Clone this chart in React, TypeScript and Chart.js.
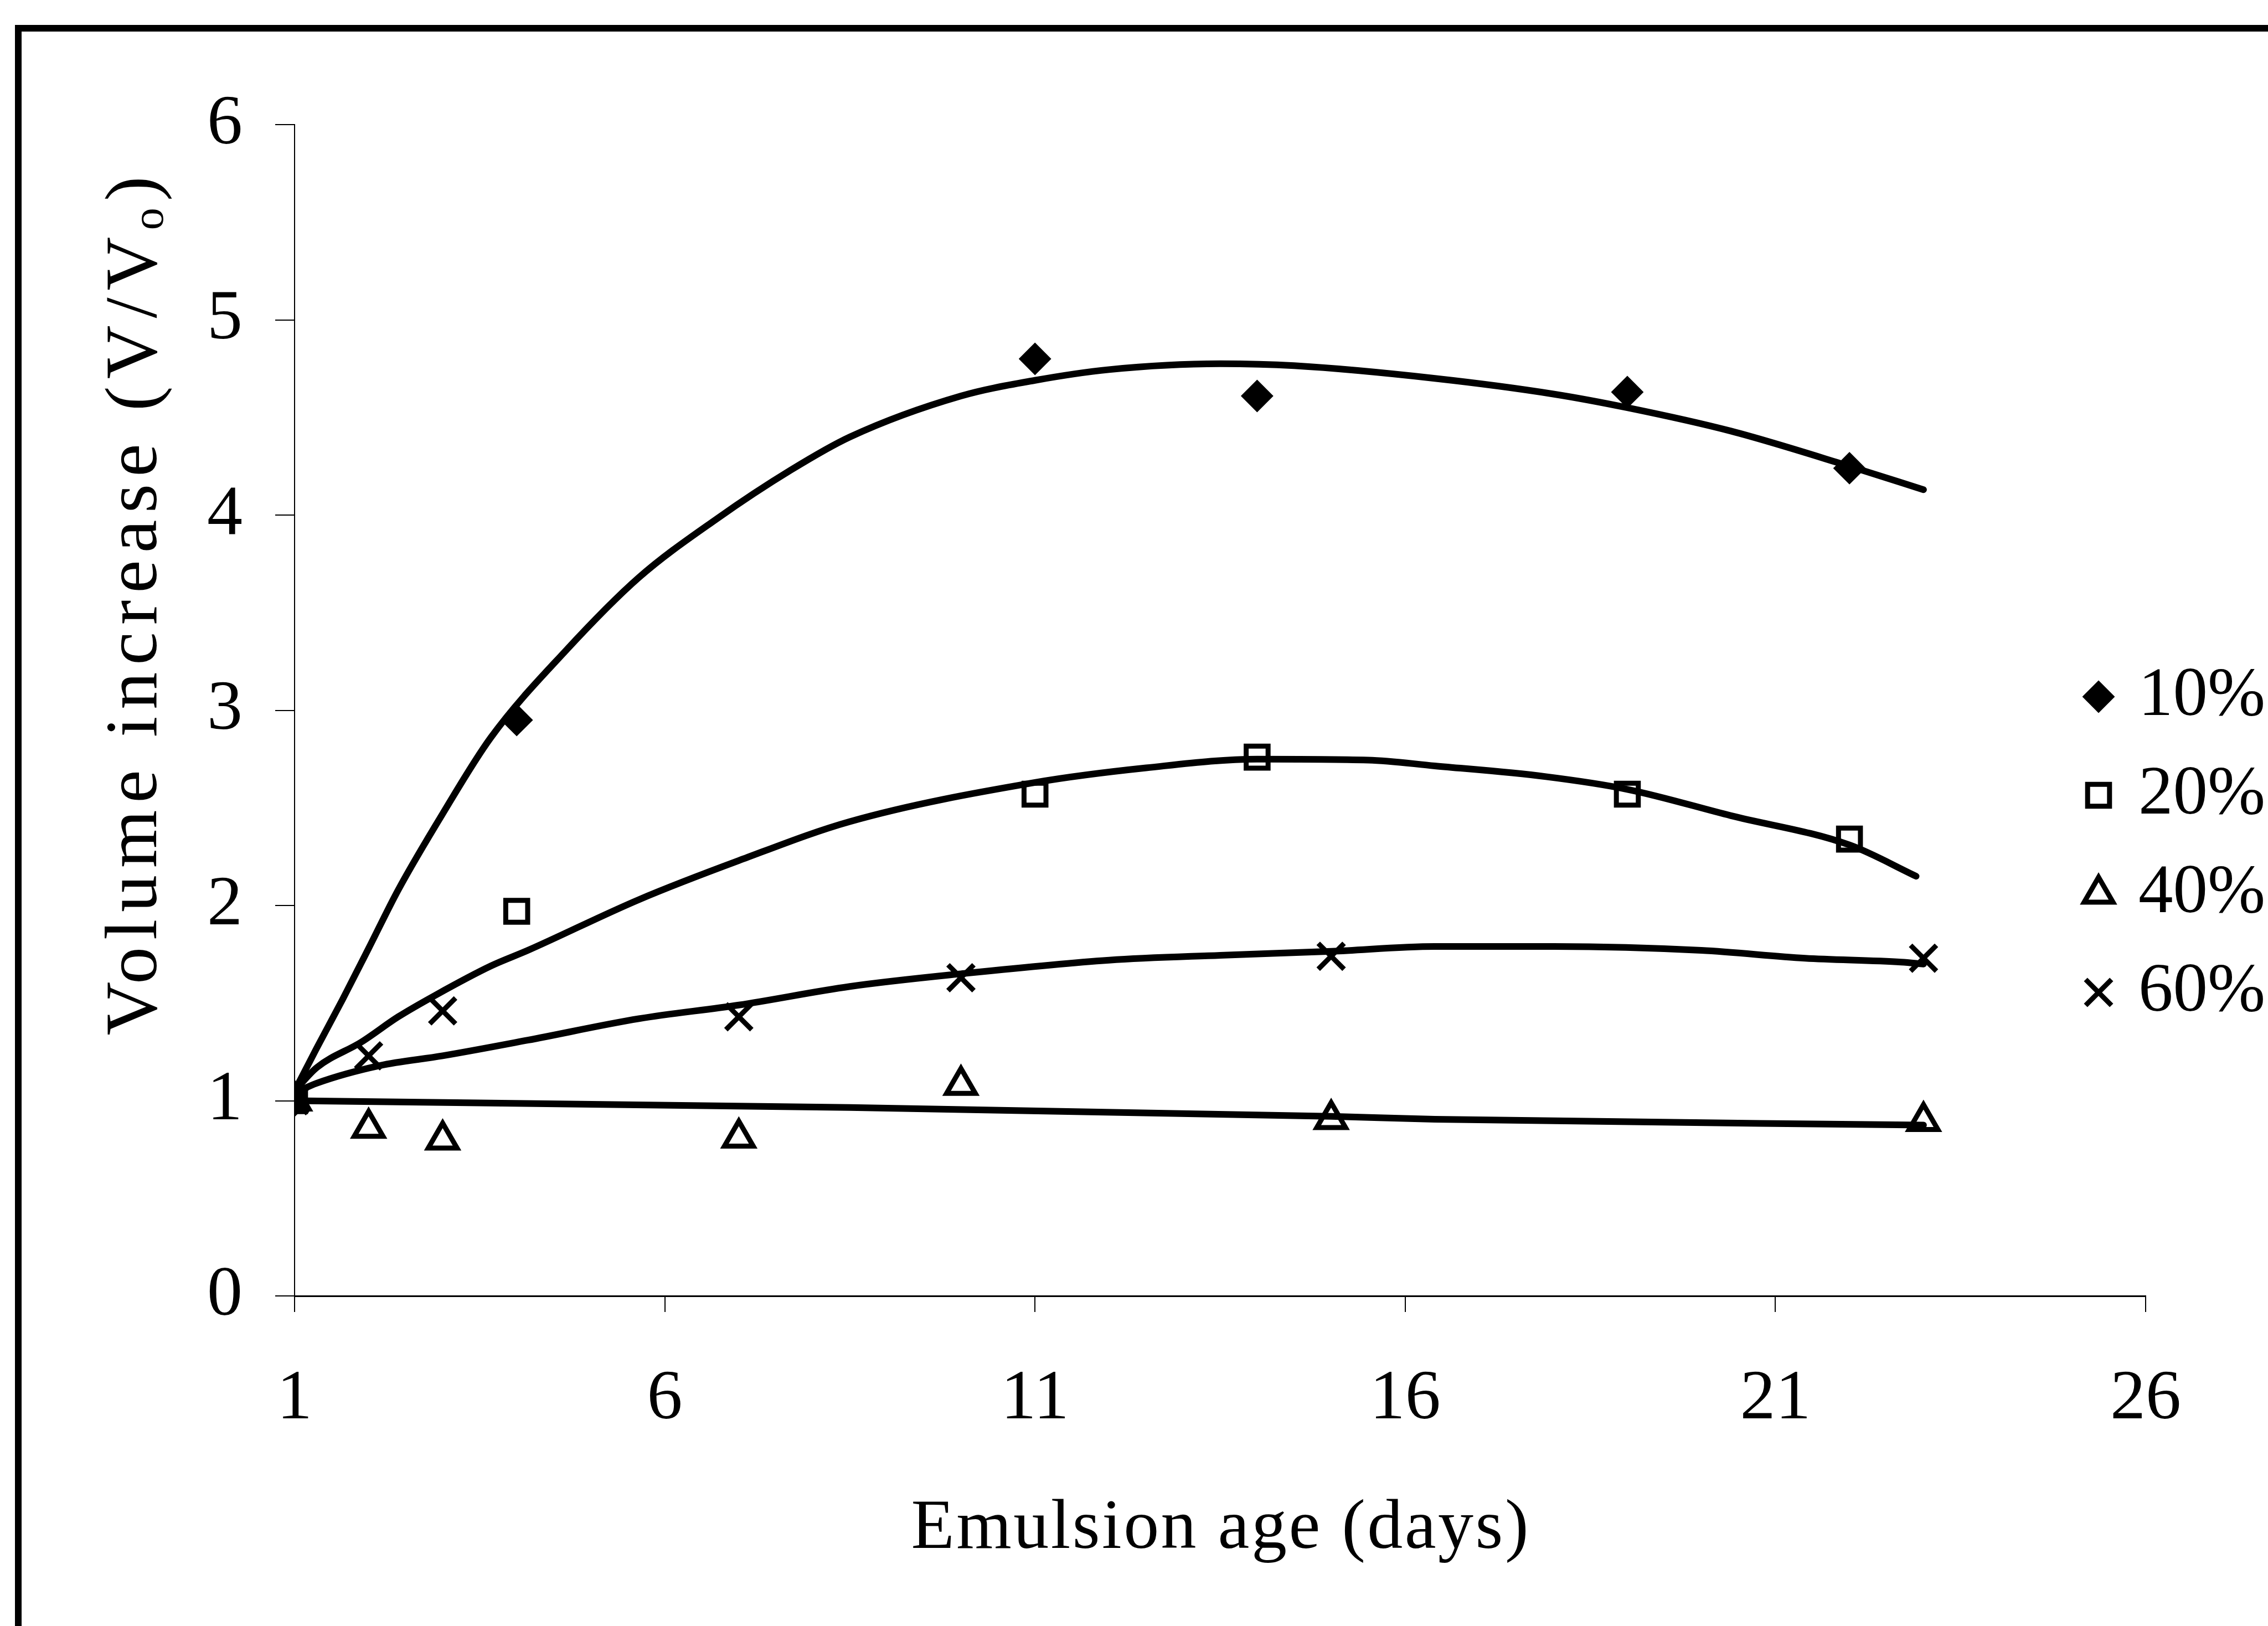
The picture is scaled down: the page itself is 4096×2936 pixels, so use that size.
import React, { useEffect, useRef } from 'react';
import { Chart, registerables } from 'chart.js';
import { drawPoint } from 'chart.js/helpers';

Chart.register(...registerables);

// Measured volume ratios V/Vo by emulsion age (days)
const seriesLabels = ['10%', '20%', '40%', '60%'];

const days10 = [1, 4, 11, 14, 19, 22];
const vol10 = [1.0, 2.95, 4.8, 4.61, 4.63, 4.24];

const days20 = [1, 4, 11, 14, 19, 22];
const vol20 = [1.0, 1.97, 2.57, 2.76, 2.57, 2.34];

const days40 = [1, 2, 3, 7, 10, 15, 23];
const vol40 = [1.0, 0.86, 0.8, 0.81, 1.08, 0.905, 0.895];

const days60 = [1, 2, 3, 7, 10, 15, 23];
const vol60 = [1.0, 1.23, 1.46, 1.43, 1.63, 1.74, 1.73];

// Fitted trend curves for each concentration
const fitDays10 = [1, 1.3, 1.65, 2, 2.4, 3, 3.65, 4.65, 5.65, 6.7, 7.7, 8.5, 10, 11, 12, 13.5, 14.5, 16.4, 18, 19, 20.4, 22, 23];
const fit10 = [1.05, 1.27, 1.52, 1.78, 2.08, 2.47, 2.86, 3.3, 3.68, 3.98, 4.23, 4.4, 4.61, 4.69, 4.745, 4.775, 4.765, 4.7, 4.62, 4.55, 4.43, 4.25, 4.13];

const fitDays20 = [1, 1.3, 1.9, 2.4, 2.9, 3.65, 4.15, 5.65, 7, 8.5, 11, 12.5, 14, 15.5, 16.4, 17.9, 19, 20.4, 22, 22.9];
const fit20 = [1.05, 1.17, 1.3, 1.43, 1.54, 1.69, 1.77, 2.03, 2.23, 2.43, 2.63, 2.705, 2.75, 2.745, 2.715, 2.66, 2.595, 2.46, 2.31, 2.15];

const fitDays40 = [1, 8.5, 15, 16.4, 23];
const fit40 = [1.0, 0.965, 0.92, 0.905, 0.875];

const fitDays60 = [1, 1.3, 2.15, 3, 4.15, 5.65, 7, 8.5, 10, 12, 13.5, 15, 16.4, 18, 20, 21.4, 22.7, 23];
const fit60 = [1.04, 1.09, 1.18, 1.23, 1.31, 1.42, 1.49, 1.585, 1.65, 1.72, 1.745, 1.765, 1.79, 1.79, 1.77, 1.73, 1.71, 1.7];

const xTickValues = [1, 6, 11, 16, 21, 26];
const yTickValues = [0, 1, 2, 3, 4, 5, 6];

const xTitle = 'Emulsion age (days)';
const yTitle = 'Volume increase (V/V\u2092)';

const FONT = '"Liberation Serif", "DejaVu Serif", serif';
const INK = '#000000';
const NONE = 'rgba(0,0,0,0)';

type MarkerSpec = {
  label: string;
  days: number[];
  vols: number[];
  style: string;
  radius: number;
  fill: string;
  width: number;
};

const markerSpecs: MarkerSpec[] = [
  { label: seriesLabels[0], days: days10, vols: vol10, style: 'rectRot', radius: 28, fill: INK, width: 2 },
  { label: seriesLabels[1], days: days20, vols: vol20, style: 'rect', radius: 28, fill: NONE, width: 9 },
  { label: seriesLabels[2], days: days40, vols: vol40, style: 'triangle', radius: 30, fill: NONE, width: 9 },
  { label: seriesLabels[3], days: days60, vols: vol60, style: 'crossRot', radius: 33, fill: NONE, width: 9 },
];

const fits: [number[], number[]][] = [
  [fitDays10, fit10],
  [fitDays20, fit20],
  [fitDays40, fit40],
  [fitDays60, fit60],
];

const toPoints = (xs: number[], ys: number[]) => xs.map((x, i) => ({ x, y: ys[i] }));

// Draws the frame, axis titles and the legend column
const decorPlugin = {
  id: 'decor',
  beforeDraw(chart: any) {
    const { ctx, width, height } = chart;
    ctx.save();
    ctx.fillStyle = '#ffffff';
    ctx.fillRect(0, 0, width, height);
    ctx.fillStyle = INK;
    ctx.fillRect(27, 45, width, 12);
    ctx.fillRect(27, 45, 12, height);
    ctx.restore();
  },
  afterDraw(chart: any) {
    const { ctx } = chart;
    ctx.save();
    ctx.fillStyle = INK;
    ctx.font = `128px ${FONT}`;

    // x-axis title, stretched to its printed length
    const fitSpacing = (text: string, target: number) => {
      (ctx as any).letterSpacing = '0px';
      const w = ctx.measureText(text).width;
      return Math.max(0, (target - w) / (text.length - 1));
    };
    const sx = fitSpacing(xTitle, 1115);
    (ctx as any).letterSpacing = `${sx}px`;
    ctx.textAlign = 'center';
    ctx.textBaseline = 'alphabetic';
    ctx.fillText(xTitle, 2203 + sx / 2, 2795);

    // y-axis title, rotated
    ctx.font = `134px ${FONT}`;
    const sy = fitSpacing(yTitle, 1551);
    ctx.save();
    ctx.translate(282, 1094);
    ctx.rotate(-Math.PI / 2);
    (ctx as any).letterSpacing = `${sy}px`;
    ctx.fillText(yTitle, sy / 2, 0);
    ctx.restore();

    // legend
    (ctx as any).letterSpacing = '0px';
    ctx.font = `125px ${FONT}`;
    ctx.textAlign = 'left';
    ctx.textBaseline = 'middle';
    markerSpecs.forEach((m, i) => {
      const y = 1258 + i * 178;
      ctx.save();
      ctx.fillStyle = m.fill;
      ctx.strokeStyle = INK;
      ctx.lineWidth = m.width;
      drawPoint(ctx, { pointStyle: m.style as any, radius: m.radius, borderWidth: m.width, rotation: 0 }, 3790, y);
      ctx.restore();
      ctx.fillStyle = INK;
      ctx.fillText(m.label, 3862, y);
    });
    ctx.restore();
  },
};

export default function App() {
  const canvasRef = useRef<HTMLCanvasElement | null>(null);

  useEffect(() => {
    const canvas = canvasRef.current;
    if (!canvas) return;

    const lineSets = fits.map(([xs, ys], i) => ({
      label: `${seriesLabels[i]} trend`,
      data: toPoints(xs, ys),
      showLine: true,
      borderColor: INK,
      borderWidth: 12,
      borderCapStyle: 'round' as const,
      borderJoinStyle: 'round' as const,
      cubicInterpolationMode: 'monotone' as const,
      pointRadius: 0,
      fill: false,
      order: 2,
    }));

    const pointSets = markerSpecs.map((m) => ({
      label: m.label,
      data: toPoints(m.days, m.vols),
      showLine: false,
      pointStyle: m.style,
      pointRadius: m.radius,
      pointBorderWidth: m.width,
      pointBackgroundColor: m.fill,
      pointBorderColor: INK,
      order: 1,
    }));

    const tickFont = { family: FONT, size: 128 };

    const chart = new Chart(canvas, {
      type: 'scatter',
      data: { datasets: [...lineSets, ...pointSets] as any },
      plugins: [decorPlugin],
      options: {
        responsive: false,
        animation: false,
        devicePixelRatio: 1,
        events: [],
        layout: { padding: { left: 0, top: 225, right: 221, bottom: 0 } },
        plugins: {
          legend: { display: false },
          tooltip: { enabled: false },
        },
        scales: {
          x: {
            type: 'linear',
            min: 1,
            max: 26,
            afterBuildTicks: (scale: any) => {
              scale.ticks = xTickValues.map((value) => ({ value }));
            },
            afterFit: (scale: any) => {
              scale.height = 596;
            },
            grid: { drawOnChartArea: false, drawTicks: true, tickLength: 29, color: INK, lineWidth: 2 },
            border: { display: true, color: INK, width: 3, dash: [30, 8] },
            ticks: { font: tickFont, color: INK, padding: 82, maxRotation: 0, autoSkip: false },
          },
          y: {
            type: 'linear',
            min: 0,
            max: 6,
            afterBuildTicks: (scale: any) => {
              scale.ticks = yTickValues.map((value) => ({ value }));
            },
            afterFit: (scale: any) => {
              scale.width = 532;
            },
            grid: { drawOnChartArea: false, drawTicks: true, tickLength: 35, color: INK, lineWidth: 2 },
            border: { display: true, color: INK, width: 2 },
            ticks: { font: tickFont, color: INK, padding: 59 },
          },
        },
      } as any,
    });

    return () => chart.destroy();
  }, []);

  return (
    <div style={{ position: 'fixed', left: 0, top: 0, width: 4096, height: 2936, background: '#ffffff' }}>
      <canvas ref={canvasRef} width={4096} height={2936} style={{ display: 'block', width: 4096, height: 2936 }} />
    </div>
  );
}
